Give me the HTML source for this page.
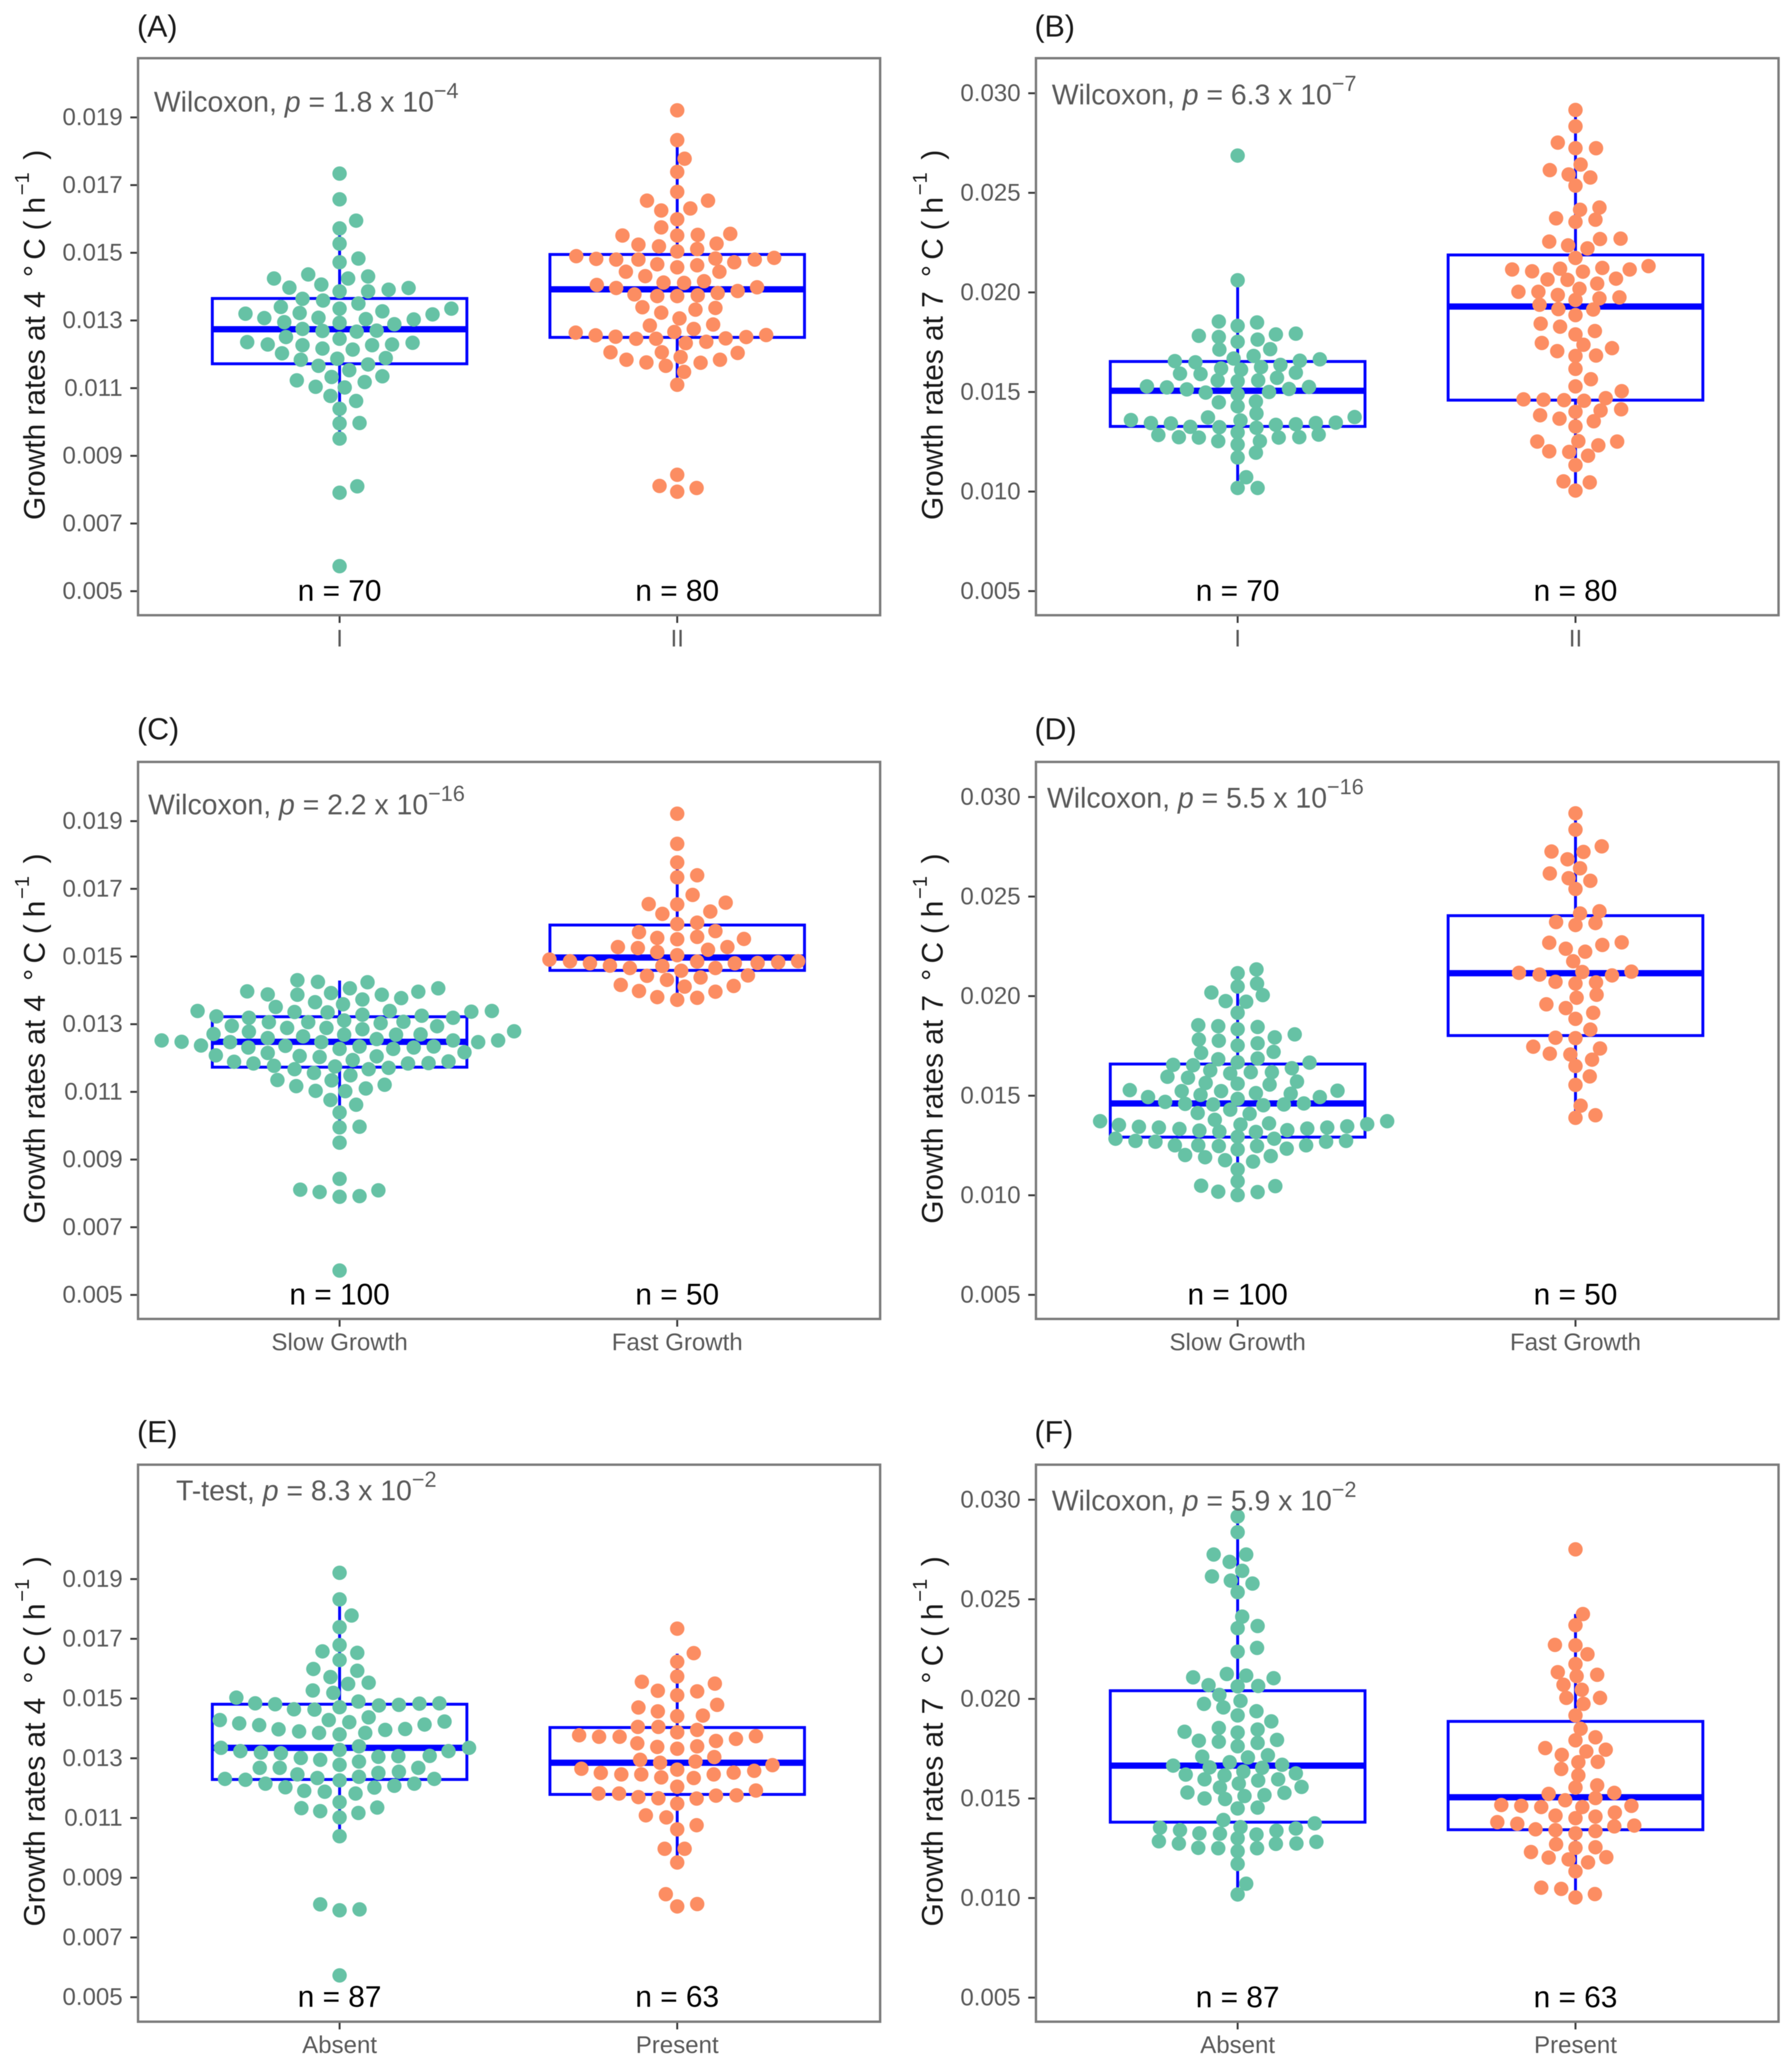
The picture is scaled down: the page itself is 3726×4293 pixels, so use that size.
<!DOCTYPE html>
<html lang="en">
<head>
<meta charset="utf-8">
<title>Growth rates at 4 and 7 degrees C</title>
<style>
html,body{margin:0;padding:0;background:#fff;}
svg{display:block;font-family:"Liberation Sans",Arial,sans-serif;filter:blur(0.7px);}
.frame{fill:none;stroke:#7c7c7c;stroke-width:5;}
.plabel{font-size:63px;fill:#1a1a1a;}
.annot{font-size:59px;fill:#595959;}
.ytitle{font-size:62px;fill:#1a1a1a;}
.sup-y{font-size:42px;}
</style>
</head>
<body>
<svg xmlns="http://www.w3.org/2000/svg" width="3726" height="4293" viewBox="0 0 3726 4293">
<rect width="3726" height="4293" fill="#fff"/>

<g transform="translate(287,121)">
<g id="marks-a"></g>
<rect class="frame" width="1543" height="1158"/>
<text class="plabel" x="-2" y="-45">(A)</text>
<text class="annot" x="33" y="111">Wilcoxon, <tspan font-style="italic">p</tspan> = 1.8 x 10<tspan dy="-28" font-size="45">−4</tspan></text>
<text class="ytitle" transform="translate(-194,960) rotate(-90)"><tspan x="0" y="0">Growth rates at 4</tspan><tspan x="505" y="0">°</tspan><tspan x="541" y="0">C</tspan><tspan x="602" y="0">(</tspan><tspan x="637" y="0">h</tspan><tspan class="sup-y" x="675" y="-33">−1</tspan><tspan x="749" y="0">)</tspan></text>
</g>

<g transform="translate(2154,121)">
<g id="marks-b"></g>
<rect class="frame" width="1544" height="1158"/>
<text class="plabel" x="-3" y="-45">(B)</text>
<text class="annot" x="33" y="96">Wilcoxon, <tspan font-style="italic">p</tspan> = 6.3 x 10<tspan dy="-28" font-size="45">−7</tspan></text>
<text class="ytitle" transform="translate(-194,960) rotate(-90)"><tspan x="0" y="0">Growth rates at 7</tspan><tspan x="505" y="0">°</tspan><tspan x="541" y="0">C</tspan><tspan x="602" y="0">(</tspan><tspan x="637" y="0">h</tspan><tspan class="sup-y" x="675" y="-33">−1</tspan><tspan x="749" y="0">)</tspan></text>
</g>

<g transform="translate(287,1584)">
<g id="marks-c"></g>
<rect class="frame" width="1543" height="1158"/>
<text class="plabel" x="-2" y="-47">(C)</text>
<text class="annot" x="21" y="109">Wilcoxon, <tspan font-style="italic">p</tspan> = 2.2 x 10<tspan dy="-28" font-size="45">−16</tspan></text>
<text class="ytitle" transform="translate(-194,960) rotate(-90)"><tspan x="0" y="0">Growth rates at 4</tspan><tspan x="505" y="0">°</tspan><tspan x="541" y="0">C</tspan><tspan x="602" y="0">(</tspan><tspan x="637" y="0">h</tspan><tspan class="sup-y" x="675" y="-33">−1</tspan><tspan x="749" y="0">)</tspan></text>
</g>

<g transform="translate(2154,1584)">
<g id="marks-d"></g>
<rect class="frame" width="1544" height="1158"/>
<text class="plabel" x="-3" y="-47">(D)</text>
<text class="annot" x="23" y="95">Wilcoxon, <tspan font-style="italic">p</tspan> = 5.5 x 10<tspan dy="-28" font-size="45">−16</tspan></text>
<text class="ytitle" transform="translate(-194,960) rotate(-90)"><tspan x="0" y="0">Growth rates at 7</tspan><tspan x="505" y="0">°</tspan><tspan x="541" y="0">C</tspan><tspan x="602" y="0">(</tspan><tspan x="637" y="0">h</tspan><tspan class="sup-y" x="675" y="-33">−1</tspan><tspan x="749" y="0">)</tspan></text>
</g>

<g transform="translate(287,3045)">
<g id="marks-e"></g>
<rect class="frame" width="1543" height="1158"/>
<text class="plabel" x="-2" y="-47">(E)</text>
<text class="annot" x="79" y="74">T-test, <tspan font-style="italic">p</tspan> = 8.3 x 10<tspan dy="-28" font-size="45">−2</tspan></text>
<text class="ytitle" transform="translate(-194,960) rotate(-90)"><tspan x="0" y="0">Growth rates at 4</tspan><tspan x="505" y="0">°</tspan><tspan x="541" y="0">C</tspan><tspan x="602" y="0">(</tspan><tspan x="637" y="0">h</tspan><tspan class="sup-y" x="675" y="-33">−1</tspan><tspan x="749" y="0">)</tspan></text>
</g>

<g transform="translate(2154,3045)">
<g id="marks-f"></g>
<rect class="frame" width="1544" height="1158"/>
<text class="plabel" x="-3" y="-47">(F)</text>
<text class="annot" x="33" y="95">Wilcoxon, <tspan font-style="italic">p</tspan> = 5.9 x 10<tspan dy="-28" font-size="45">−2</tspan></text>
<text class="ytitle" transform="translate(-194,960) rotate(-90)"><tspan x="0" y="0">Growth rates at 7</tspan><tspan x="505" y="0">°</tspan><tspan x="541" y="0">C</tspan><tspan x="602" y="0">(</tspan><tspan x="637" y="0">h</tspan><tspan class="sup-y" x="675" y="-33">−1</tspan><tspan x="749" y="0">)</tspan></text>
</g>
</svg>

<script>
// All growth rates are expressed in units of 10^-3 per hour.
// Jitter values are swarm offsets along the categorical axis, 592 units = one category step.
const ticks4C = [5, 7, 9, 11, 13, 15, 17, 19];
const ticks7C = [5, 10, 15, 20, 25, 30];
const domainAC = [4.29, 20.75];
const domainE = [4.18, 22.83];
const domain7C = [3.79, 31.76];

const categoriesAB = ["I", "II"];
const categoriesCD = ["Slow Growth", "Fast Growth"];
const categoriesEF = ["Absent", "Present"];
const countsAB = ["n = 70", "n = 80"];
const countsCD = ["n = 100", "n = 50"];
const countsEF = ["n = 87", "n = 63"];

// Box stats order: lower whisker, q1, median, q3, upper whisker
const boxA1 = [9.64, 11.72, 12.74, 13.65, 15.93];
const boxA2 = [11.29, 12.5, 13.92, 14.95, 18.15];
const boxB1 = [10.18, 13.27, 15.06, 16.53, 20.61];
const boxB2 = [10.05, 14.59, 19.29, 21.88, 29.16];
const boxC1 = [10.0, 11.73, 12.48, 13.22, 14.29];
const boxC2 = [13.87, 14.59, 14.97, 15.93, 17.74];
const boxD1 = [10.0, 12.92, 14.61, 16.59, 21.15];
const boxD2 = [13.89, 18.02, 21.15, 24.04, 29.18];
const boxE1 = [10.39, 12.29, 13.35, 14.81, 18.32];
const boxE2 = [9.7, 11.79, 12.85, 14.03, 16.5];
const boxF1 = [10.18, 13.81, 16.65, 20.41, 29.16];
const boxF2 = [10.03, 13.43, 15.06, 18.87, 24.26];

const valuesA1 = [17.34,16.58,15.95,15.72,15.27,14.83,14.72,14.24,14.36,14.24,14.30,13.97,14.06,13.86,13.86,13.91,13.96,13.64,13.59,13.5,13.4,13.35,13.35,13.27,13.2,13.22,13.18,13.07,13.08,13.04,13.03,12.95,12.93,12.89,12.75,12.69,12.67,12.7,12.51,12.46,12.36,12.34,12.29,12.27,12.29,12.27,12.17,12.14,12.03,11.84,11.87,11.89,11.66,11.7,11.53,11.33,11.35,11.23,11.18,11.04,11.02,10.77,10.62,10.39,9.96,9.97,9.51,8.1,7.91,5.74];
const jitterA1 = [0,0,29,0,0,33,0,-115,-55,15,50,-88,-32,50,0,86,121,-65,-29,33,-103,0,196,75,-165,-70,163,-132,-37,46,130,-97,0,96,-65,-30,30,65,-94,0,-162,128,-126,-65,92,57,-30,23,-101,-68,-4,81,-37,50,17,-14,75,-75,44,-42,9,-16,29,0,0,35,0,31,0,0];

const valuesA2 = [19.21,18.33,17.78,17.39,16.8,16.54,16.54,16.31,16.25,15.99,15.75,15.51,15.51,15.53,15.56,15.24,15.19,15.27,15.11,15.04,14.9,14.82,14.8,14.8,14.83,14.85,14.8,14.72,14.66,14.63,14.57,14.44,14.44,14.31,14.16,14.12,14.11,14.05,13.98,13.96,13.87,13.81,13.77,13.72,13.74,13.72,13.39,13.37,13.32,13.23,13.06,12.85,12.88,12.75,12.66,12.64,12.57,12.56,12.51,12.52,12.47,12.46,12.46,12.37,12.33,12.06,12.06,12.04,11.92,11.84,11.84,11.76,11.75,11.66,11.48,11.1,8.44,8.11,8.05,7.94];
const jitterA2 = [0,0,13,0,0,-53,54,23,-28,0,-28,-96,0,36,93,-68,-32,69,35,0,-177,-142,-107,-68,67,170,136,100,-35,35,0,-90,74,-56,47,-24,12,-141,140,-107,106,71,-75,0,36,-35,-61,67,32,-28,4,-48,63,29,-5,-178,156,-143,121,-108,85,-72,-37,51,15,-27,-117,106,6,-89,75,-54,41,-20,12,0,0,-31,34,0];

const valuesB1 = [26.87,20.61,18.54,18.49,18.32,17.82,17.93,17.89,17.76,17.63,17.52,17.13,17.15,16.81,16.68,16.64,16.55,16.49,16.57,16.36,16.25,16.18,16.12,15.97,15.92,15.9,15.71,15.58,15.58,15.54,15.28,15.23,15.25,15.13,15.15,14.97,15.0,14.89,14.52,14.48,14.28,13.92,13.72,13.74,13.59,13.57,13.46,13.44,13.42,13.44,13.38,13.35,13.25,13.2,13.23,12.97,12.84,12.86,12.73,12.73,12.71,12.71,12.53,12.53,12.36,11.95,11.71,10.72,10.18,10.18];
const jitterB1 = [0,0,-33,34,0,-68,102,67,-33,35,0,-32,57,28,-7,144,-110,-74,109,75,41,-29,6,102,-101,-65,69,-35,36,0,-159,-124,125,-89,90,-56,55,0,32,-33,0,33,-52,205,-187,5,172,-152,-117,137,102,67,-83,33,-32,0,-139,142,-103,108,-68,72,-34,39,0,32,0,15,0,35];

const valuesB2 = [29.16,28.34,27.52,27.24,27.24,26.42,26.14,25.92,25.77,25.36,24.26,24.15,23.72,23.65,23.54,22.7,22.68,22.55,22.36,22.21,21.73,21.32,21.23,21.19,21.15,21.15,21.06,21.04,20.65,20.69,20.63,20.44,20.18,20.03,20.03,19.87,19.75,19.7,19.62,19.38,19.16,19.14,18.86,18.43,18.28,18.06,17.89,17.46,17.37,17.2,17.05,16.83,16.81,16.16,15.64,15.28,15.04,14.63,14.61,14.69,14.59,14.56,14.07,14.13,14.0,13.83,13.66,13.53,13.27,12.51,12.51,12.53,12.32,12.02,11.99,11.8,11.33,10.51,10.46,10.05];
const jitterB2 = [0,0,-31,36,0,9,-45,-12,26,0,42,8,-34,35,0,79,43,-46,-13,21,0,128,47,-27,-111,95,-76,13,-49,71,-14,38,7,-100,-65,-31,77,42,0,-63,-30,31,0,-61,-27,34,0,-59,14,64,-32,36,0,0,27,0,81,-91,-56,53,-20,15,44,80,0,-62,-28,32,0,-67,73,5,40,-46,-11,22,0,-21,25,0];

const valuesC1 = [5.72,7.9,7.92,8.09,8.04,8.11,8.43,9.5,9.95,9.97,10.62,10.39,10.76,11.03,11.02,11.1,11.17,11.21,11.35,11.34,11.49,11.56,11.67,11.67,11.71,11.75,11.77,11.85,11.84,11.9,11.84,11.89,11.94,12.08,12.03,12.05,12.06,12.17,12.15,12.27,12.31,12.27,12.31,12.34,12.34,12.36,12.37,12.47,12.47,12.47,12.48,12.52,12.52,12.52,12.56,12.59,12.64,12.69,12.69,12.7,12.71,12.78,12.79,12.85,12.89,12.89,12.94,12.95,13.03,13.06,13.06,13.07,13.11,13.19,13.23,13.19,13.25,13.28,13.35,13.36,13.37,13.39,13.39,13.39,13.51,13.59,13.65,13.73,13.77,13.87,13.88,13.87,13.92,13.96,13.97,14.06,14.06,14.24,14.25,14.3];
const jitterC1 = [0,0,35,68,-35,-69,0,0,0,35,29,0,-16,-42,10,46,-76,79,-109,-14,19,-45,-79,51,86,-8,-115,156,120,191,-151,-185,23,-217,-35,65,-70,219,-126,0,-160,94,130,165,35,-95,-243,243,-32,-192,-277,-312,278,199,65,-126,-64,8,99,142,-221,-159,306,40,-23,-92,171,-189,72,-124,-55,112,8,199,-216,-159,144,40,-21,-79,231,267,-249,88,-112,6,-43,40,108,74,-126,-74,-15,138,-162,173,18,49,-38,-74];

const valuesC2 = [19.22,18.33,17.78,17.4,17.34,16.82,16.59,16.55,16.54,16.33,16.26,16.0,15.96,15.75,15.72,15.58,15.55,15.52,15.51,15.28,15.28,15.25,15.2,15.13,15.04,14.91,14.86,14.86,14.83,14.81,14.8,14.8,14.85,14.73,14.72,14.66,14.66,14.58,14.43,14.44,14.38,14.31,14.16,14.13,14.11,13.98,13.96,13.8,13.78,13.72];
const jitterC2 = [0,0,0,35,0,27,85,-50,0,58,-26,35,0,67,-67,35,-35,117,0,-104,88,-69,54,-35,0,-224,212,-188,177,141,-153,101,35,-118,-26,-83,67,7,-53,124,41,-18,-99,99,13,-67,67,-35,35,0];

const valuesD1 = [21.34,21.15,20.48,20.63,20.18,20.05,19.75,19.72,19.16,18.54,18.49,18.45,18.34,18.08,17.93,17.82,17.76,17.63,17.52,17.2,17.15,16.87,16.83,16.68,16.66,16.55,16.53,16.38,16.27,16.18,16.18,16.12,15.95,15.9,15.71,15.64,15.6,15.56,15.28,15.25,15.23,15.23,15.1,15.13,15.04,14.93,14.93,14.84,14.69,14.61,14.59,14.56,14.56,14.52,14.3,14.13,14.09,13.79,13.72,13.72,13.57,13.61,13.53,13.55,13.46,13.44,13.4,13.4,13.35,13.33,13.27,13.25,13.2,13.18,12.94,12.84,12.84,12.73,12.73,12.69,12.69,12.51,12.51,12.51,12.47,12.47,12.34,12.3,11.97,12.02,11.91,11.76,11.69,11.3,10.7,10.48,10.46,10.18,10.16,10.01];
const jitterD1 = [33,0,0,34,-46,44,-21,15,0,-69,-34,35,0,100,65,-68,-33,35,0,63,-64,35,-34,0,126,-113,-78,95,-48,23,60,-13,-123,-87,104,-56,0,56,-189,175,-98,-29,93,32,-65,-157,144,0,-127,116,-92,81,-43,45,-13,-70,21,-40,-241,262,227,55,-208,5,192,-173,-138,157,122,-102,87,-67,-32,32,0,-214,64,-179,190,155,-144,-69,-110,120,-33,34,86,0,58,-92,-57,-22,27,0,0,-64,66,-34,35,0];

const valuesD2 = [29.18,28.36,27.52,27.26,27.24,26.87,26.42,26.16,25.92,25.79,25.38,24.26,24.15,23.72,23.67,23.57,22.7,22.68,22.57,22.38,22.23,21.75,21.23,21.17,21.21,21.08,21.04,20.72,20.69,20.63,20.07,19.92,19.59,19.4,19.16,18.86,18.32,17.91,17.89,17.46,17.37,17.11,17.07,16.81,16.49,15.97,15.54,14.5,14.02,13.89];
const jitterD2 = [0,0,46,-42,14,-14,8,-45,-12,26,0,42,8,-34,35,0,81,-46,47,-17,17,-4,98,-99,12,-63,64,-35,36,0,37,2,-51,-17,31,0,26,-35,0,-74,43,-45,-9,29,0,25,0,9,35,0];

const valuesE1 = [19.21,18.32,17.78,17.39,16.79,16.58,16.53,16.29,15.99,15.93,15.72,15.53,15.49,15.27,15.19,15.03,14.9,14.84,14.83,14.84,14.81,14.79,14.77,14.71,14.64,14.63,14.37,14.28,14.28,14.23,14.21,14.17,14.13,14.11,13.98,13.95,13.97,13.9,13.85,13.85,13.8,13.4,13.35,13.35,13.28,13.24,13.24,13.19,13.17,13.08,13.07,13.05,13.01,12.95,12.89,12.78,12.68,12.68,12.68,12.55,12.51,12.46,12.38,12.34,12.31,12.31,12.28,12.26,12.15,12.15,12.08,12.03,12.02,11.91,11.88,11.82,11.53,11.35,11.33,11.23,11.17,11.02,10.39,8.11,7.94,7.91,5.73];
const jitterE1 = [0,0,21,0,0,-30,31,0,-46,31,-16,51,15,-47,-11,-181,33,175,140,-148,-113,104,69,0,-80,-44,51,-210,-19,184,17,-176,149,-141,115,80,-107,-71,45,-36,0,34,227,-208,0,191,-174,-138,-103,158,103,68,-68,-34,34,0,-105,-140,138,104,68,-74,34,-39,-201,166,-165,0,-130,131,96,-95,61,-62,-26,28,0,66,-67,-34,33,0,0,-34,35,0,0];

const valuesE2 = [17.34,16.52,16.23,15.74,15.56,15.5,15.26,15.24,15.11,14.79,14.7,14.57,14.43,14.41,14.05,14.05,13.95,13.87,13.77,13.74,13.72,13.72,13.65,13.58,13.5,13.4,13.38,13.32,13.04,12.95,12.89,12.85,12.77,12.65,12.62,12.58,12.51,12.52,12.46,12.46,12.46,12.36,12.34,12.05,11.92,11.82,11.82,11.76,11.75,11.7,11.66,11.65,11.48,11.09,11.02,10.76,10.62,9.97,9.97,9.51,8.45,8.12,8.04];
const jitterE2 = [0,29,0,0,-62,66,-34,35,0,70,-68,-34,45,0,-33,-69,35,0,-172,138,-137,-101,103,68,-70,35,-35,0,65,-65,32,-30,167,-168,0,135,-134,99,64,-63,-98,-28,29,0,138,-138,-102,104,68,-68,-33,34,0,-55,-19,34,0,-22,13,0,-20,35,0];

const valuesF1 = [29.16,28.37,27.25,27.25,26.88,26.43,26.15,25.94,25.79,25.36,24.13,23.66,23.55,22.56,22.37,21.25,21.17,21.08,21.04,20.69,20.65,20.63,20.2,19.9,19.75,19.57,19.38,19.17,18.87,18.54,18.46,18.35,18.31,17.94,17.9,17.85,17.79,17.62,17.17,17.1,17.06,16.82,16.65,16.69,16.56,16.54,16.35,16.26,16.2,16.16,15.96,15.96,15.9,15.75,15.58,15.55,15.3,15.28,15.17,15.12,14.97,15.0,14.54,14.5,13.92,13.75,13.56,13.53,13.49,13.38,13.41,13.25,13.23,13.19,13.0,12.85,12.82,12.74,12.72,12.74,12.52,12.5,12.5,12.35,11.71,10.72,10.18];
const jitterF1 = [0,0,-42,15,-14,8,-45,-12,26,0,8,35,0,34,0,-19,15,-78,63,-51,36,0,-32,5,-59,-25,33,0,59,-33,35,-93,0,69,-68,-33,35,0,53,-62,18,-14,-113,78,-49,43,10,102,-91,-23,-58,71,36,2,112,-31,-88,82,47,12,-22,-58,35,0,-25,135,5,-136,102,68,-101,-67,-31,33,0,-138,138,103,67,-103,-69,-34,34,0,0,15,0];

const valuesF2 = [27.51,24.26,23.7,22.71,22.69,22.24,21.75,21.34,21.21,21.14,20.71,20.46,20.05,20.05,19.75,19.17,18.5,18.07,17.92,17.53,17.45,17.36,17.19,16.84,16.82,16.48,16.16,15.66,15.55,15.28,15.23,15.02,14.91,14.67,14.63,14.63,14.57,14.57,14.29,14.14,14.09,14.01,13.81,13.73,13.64,13.6,13.45,13.41,13.36,13.25,12.7,12.55,12.52,12.31,12.05,12.03,11.94,11.79,11.34,10.52,10.46,10.2,10.03];
const jitterF2 = [0,13,0,-36,0,21,0,-31,38,2,-21,11,43,-16,14,0,9,35,0,-53,53,19,-24,39,5,-25,5,38,0,68,-47,35,-18,-130,-95,98,-60,12,69,-35,35,0,-137,-102,103,68,-70,-35,35,0,-34,35,0,-78,54,-47,-12,22,0,-60,-25,34,0];

const SVG_NS = "http://www.w3.org/2000/svg";
const PANEL_H = 1158;
const X_DOMAIN = [0.403, 2.601];
const JITTER_PER_CATEGORY = 592;
const BOX_HALF_WIDTH = 0.377;
const GROUP_COLORS = ["#66c2a5", "#fc8d62"];

const panels = [
  {id: "a", width: 1543, domain: domainAC, ticks: ticks4C, categories: categoriesAB, counts: countsAB, values: [valuesA1, valuesA2], jitter: [jitterA1, jitterA2], boxes: [boxA1, boxA2]},
  {id: "b", width: 1544, domain: domain7C, ticks: ticks7C, categories: categoriesAB, counts: countsAB, values: [valuesB1, valuesB2], jitter: [jitterB1, jitterB2], boxes: [boxB1, boxB2]},
  {id: "c", width: 1543, domain: domainAC, ticks: ticks4C, categories: categoriesCD, counts: countsCD, values: [valuesC1, valuesC2], jitter: [jitterC1, jitterC2], boxes: [boxC1, boxC2]},
  {id: "d", width: 1544, domain: domain7C, ticks: ticks7C, categories: categoriesCD, counts: countsCD, values: [valuesD1, valuesD2], jitter: [jitterD1, jitterD2], boxes: [boxD1, boxD2]},
  {id: "e", width: 1543, domain: domainE, ticks: ticks4C, categories: categoriesEF, counts: countsEF, values: [valuesE1, valuesE2], jitter: [jitterE1, jitterE2], boxes: [boxE1, boxE2]},
  {id: "f", width: 1544, domain: domain7C, ticks: ticks7C, categories: categoriesEF, counts: countsEF, values: [valuesF1, valuesF2], jitter: [jitterF1, jitterF2], boxes: [boxF1, boxF2]}
];

function xScaleFor(width) {
  return function (position) {
    return (position - X_DOMAIN[0]) / (X_DOMAIN[1] - X_DOMAIN[0]) * width;
  };
}
function yScaleFor(domain) {
  return function (value) {
    return PANEL_H - (value - domain[0]) / (domain[1] - domain[0]) * PANEL_H;
  };
}
function make(tag, attrs, parent) {
  const node = document.createElementNS(SVG_NS, tag);
  for (const key in attrs) node.setAttribute(key, attrs[key]);
  parent.appendChild(node);
  return node;
}

panels.forEach(function (panel) {
  const root = document.getElementById("marks-" + panel.id);
  const x = xScaleFor(panel.width);
  const y = yScaleFor(panel.domain);

  panel.ticks.forEach(function (tick) {
    const tickMark = make("line", {x1: -16, x2: 0, y1: y(tick), y2: y(tick), stroke: "#3a3a3a", "stroke-width": 4}, root);
    
    
    const tickLabel = make("text", {x: -32, y: y(tick) + 16, "text-anchor": "end", "font-size": 50, fill: "#595959"}, root);
    
    
    tickLabel.textContent = (tick / 1000).toFixed(3);
  });

  panel.categories.forEach(function (category, g) {
    const center = x(g + 1);
    const box = panel.boxes[g];

    const xTick = make("line", {x1: center, x2: center, y1: PANEL_H, y2: PANEL_H + 16, stroke: "#3a3a3a", "stroke-width": 4}, root);
    
    
    const xLabel = make("text", {x: center, y: PANEL_H + 65, "text-anchor": "middle", "font-size": 50, fill: "#595959"}, root);
    
    
    xLabel.textContent = category;

    const upperWhisker = make("line", {x1: center, x2: center, y1: y(box[3]), y2: y(box[4]), stroke: "#0000ff", "stroke-width": 6}, root);
    
    
    const lowerWhisker = make("line", {x1: center, x2: center, y1: y(box[1]), y2: y(box[0]), stroke: "#0000ff", "stroke-width": 6}, root);
    
    
    const left = x(g + 1 - BOX_HALF_WIDTH);
    const right = x(g + 1 + BOX_HALF_WIDTH);
    const boxRect = make("rect", {x: left, y: y(box[3]), width: right - left, height: y(box[1]) - y(box[3]), fill: "none", stroke: "#0000ff", "stroke-width": 6}, root);
    
    
    const medianLine = make("line", {x1: left, x2: right, y1: y(box[2]), y2: y(box[2]), stroke: "#0000ff", "stroke-width": 13}, root);
    
    

    panel.values[g].forEach(function (value, i) {
      const offset = (panel.jitter[g][i] || 0) / JITTER_PER_CATEGORY;
      const dot = make("circle", {cx: x(g + 1 + offset), cy: y(value), r: 15, fill: GROUP_COLORS[g]}, root);
      
      
    });

    const countLabel = make("text", {x: center, y: y(5) + 20, "text-anchor": "middle", "font-size": 62, fill: "#000"}, root);
    
    
    countLabel.textContent = panel.counts[g];
  });
});
</script>
</body>
</html>
